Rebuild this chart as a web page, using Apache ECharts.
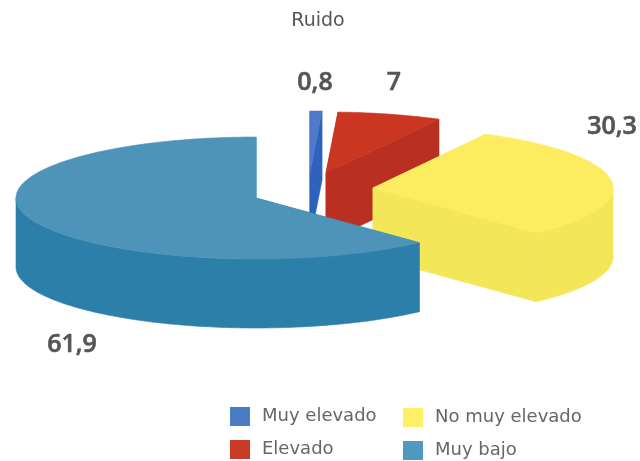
<!DOCTYPE html>
<html>
<head>
<meta charset="utf-8">
<style>
  html, body { margin: 0; background: #fff; }
  #chart { width: 640px; height: 461px; }
</style>
</head>
<body>
<div id="chart"></div>
<script src="https://cdn.jsdelivr.net/npm/echarts@6/dist/echarts.min.js"></script>
<script>
const categories = ["Muy elevado", "Elevado", "No muy elevado", "Muy bajo"];
const values = [0.8, 7, 30.3, 61.9];

// colores: leyenda / cara superior / pared
const legendColors = ["#4a7cc6", "#cb3a28", "#fdf064", "#4f98bf"];
const topColors = ["#5079cb", "#cb3623", "#fdec5f", "#4e94b8"];
const wallColors = ["#2e62bc", "#b93022", "#f4e659", "#2b7fa9"];

// vertice de cada sector (pie separado) y medidas de la elipse
const apexes = [[310, 172], [326, 173], [373, 188], [256, 198]];
const labelPos = [[315, 83], [394, 83], [612, 127], [72, 345]];
const RX = 240;
const RY = 61;
const DEPTH = 69;

const total = values.reduce((a, b) => a + b, 0);

function ellipsePoint(apex, deg, dy) {
  const rad = (deg * Math.PI) / 180;
  return [apex[0] + RX * Math.sin(rad), apex[1] - RY * Math.cos(rad) + (dy || 0)];
}

function arcPoints(apex, from, to, dy) {
  const pts = [];
  for (let d = from; d < to; d += 1) {
    pts.push(ellipsePoint(apex, d, dy));
  }
  pts.push(ellipsePoint(apex, to, dy));
  return pts;
}

function face(points, color) {
  return {
    type: "polygon",
    shape: { points: points },
    style: { fill: color, stroke: color, lineWidth: 0.6 },
  };
}

function wall(apex, deg, color) {
  const rim = ellipsePoint(apex, deg, 0);
  return face([apex, rim, [rim[0], rim[1] + DEPTH], [apex[0], apex[1] + DEPTH]], color);
}

function makeRenderItem(index) {
  return function (params, api) {
    const value = api.value(0);
    let before = 0;
    for (let i = 0; i < index; i++) {
      before += values[i];
    }
    const a0 = (before / total) * 360;
    const a1 = ((before + value) / total) * 360;
    const apex = apexes[index];
    const children = [wall(apex, a0, wallColors[index]), wall(apex, a1, wallColors[index])];

    // pared curva, solo la parte que mira al frente (90-270 grados)
    const from = Math.max(a0, 90);
    const to = Math.min(a1, 270);
    if (to > from) {
      const upper = arcPoints(apex, from, to, 0);
      const lower = arcPoints(apex, from, to, DEPTH).reverse();
      children.push(face(upper.concat(lower), wallColors[index]));
    }

    children.push(face([apex].concat(arcPoints(apex, a0, a1, 0)), topColors[index]));
    children.push({
      type: "text",
      z2: 10,
      style: {
        x: labelPos[index][0],
        y: labelPos[index][1],
        text: String(value).replace(".", ","),
        fill: "#555",
        stroke: "#555",
        lineWidth: 0.6,
        font: "600 25px 'Open Sans'",
        align: "center",
        verticalAlign: "middle",
      },
    });
    return { type: "group", children: children };
  };
}

const series = categories.map((name, i) => {
  return {
    name: name,
    type: "custom",
    coordinateSystem: "none",
    silent: true,
    itemStyle: { color: legendColors[i] },
    data: [[values[i]]],
    renderItem: makeRenderItem(i),
  };
});

function legendColumn(names, left, top) {
  return {
    data: names,
    orient: "vertical",
    left: left,
    top: top,
    padding: 0,
    icon: "rect",
    itemWidth: 20,
    itemHeight: 19,
    itemGap: 14,
    selectedMode: false,
    textStyle: {
      color: "#666",
      fontFamily: "DejaVu Sans",
      fontSize: 18,
      padding: [0, 0, 0, 7],
    },
  };
}

const chart = echarts.init(document.getElementById("chart"), null, { renderer: "canvas" });
chart.setOption({
  animation: false,
  backgroundColor: "#fff",
  title: {
    text: "Ruido",
    left: 318,
    top: 12,
    textAlign: "center",
    padding: 0,
    textStyle: { color: "#555", fontFamily: "DejaVu Sans", fontSize: 19, fontWeight: "normal" },
  },
  legend: [
    legendColumn([categories[0], categories[1]], 230, 407),
    legendColumn([categories[2], categories[3]], 403, 408),
  ],
  series: series,
});
</script>
</body>
</html>
